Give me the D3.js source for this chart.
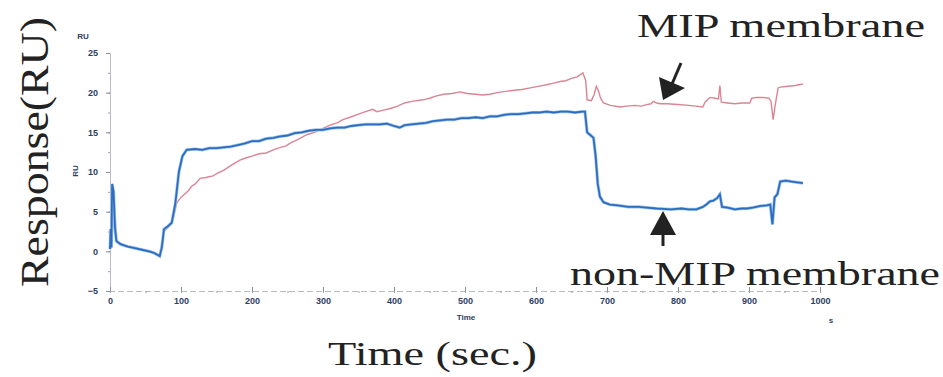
<!DOCTYPE html>
<html>
<head>
<meta charset="utf-8">
<script src="https://cdn.jsdelivr.net/npm/d3@7"></script>
<style>
  body { margin: 0; background: #fff; }
  .tick text { font-family: "Liberation Sans", Arial, sans-serif; font-weight: bold; font-size: 9px; fill: #2d3e63; }
  .big { font-family: "Liberation Serif", "Times New Roman", serif; fill: #222; }
</style>
</head>
<body>
<div id="chart"></div>
<script>
// sensorgram readings (time in s, response in RU)
const blueTime = [0, 1, 2, 3, 5, 7, 9, 15, 25, 35, 45, 55, 62, 70, 73, 76, 82, 87, 92, 97, 102, 108,
  120, 130, 140, 150, 160, 170, 180, 190, 200, 210, 220, 230, 240, 250, 260, 270, 280, 290, 300, 310, 320, 330, 340, 350, 360, 370, 380, 390,
  400, 408, 415, 425, 435, 445, 455, 465, 475, 485, 495, 505, 515, 525, 535, 545, 555, 565, 575, 585, 595, 605, 615, 625, 635, 645, 655, 665, 669,
  672, 676, 681, 684, 687, 690, 695, 704, 715, 730, 745, 756, 770, 790, 805, 815, 826, 835, 840, 845, 850, 855, 859, 862, 870, 880, 890, 897,
  905, 915, 925, 930, 933, 936, 940, 944, 952, 960, 968, 976];
const blueResp = [0.3, 2.8, 0.5, 8.5, 7.5, 3.0, 1.3, 0.9, 0.6, 0.4, 0.2, 0.0, -0.2, -0.6, 0.5, 2.8, 3.2, 3.6, 6.0, 10.0, 12.0, 12.8,
  12.9, 12.8, 13.0, 13.0, 13.1, 13.2, 13.4, 13.6, 13.9, 13.9, 14.2, 14.3, 14.5, 14.6, 14.9, 15.0, 15.2, 15.3, 15.3, 15.5, 15.6, 15.6, 15.8, 15.9, 16.0, 16.0, 16.0, 16.1,
  15.8, 15.6, 15.9, 16.0, 16.1, 16.2, 16.4, 16.5, 16.6, 16.6, 16.8, 16.8, 16.9, 16.8, 17.0, 17.0, 17.2, 17.3, 17.3, 17.4, 17.5, 17.5, 17.6, 17.5, 17.6, 17.6, 17.5, 17.6, 17.6,
  15.0, 14.7, 14.3, 12.0, 8.5, 6.9, 6.2, 5.9, 5.8, 5.6, 5.6, 5.5, 5.4, 5.3, 5.4, 5.3, 5.3, 5.6, 5.9, 6.3, 6.4, 6.7, 7.2, 5.6, 5.5, 5.3, 5.4, 5.4,
  5.5, 5.7, 5.8, 5.9, 3.4, 6.8, 7.2, 8.8, 8.9, 8.8, 8.7, 8.6];

const redTime = [0, 1, 3, 6, 9, 15, 25, 35, 45, 55, 62, 70, 76, 85, 90, 94, 100, 105, 110, 115, 120, 127, 135, 145, 152, 160, 170, 183, 192,
  200, 210, 220, 230, 240, 248, 255, 265, 277, 288, 300, 310, 320, 328, 338, 350, 360, 370, 376, 385, 395, 405, 415, 425, 441, 450, 460, 470, 482, 493,
  503, 515, 525, 535, 545, 560, 570, 580, 592, 603, 615, 625, 634, 642, 650, 658, 666,
  670, 672, 678, 682, 685, 688, 691, 695, 705, 718, 728, 740, 748, 756, 762, 765, 770, 775, 785, 800, 815, 825, 835, 838, 845, 852, 857, 859, 861,
  870, 880, 890, 901, 904, 910, 920, 928, 931, 934, 937, 941, 944, 955, 965, 976];
const redResp = [0.3, 2.4, 7.8, 6.5, 1.2, 0.9, 0.6, 0.4, 0.2, 0.0, -0.2, -0.5, 2.5, 3.3, 4.5, 6.1, 6.8, 7.2, 7.6, 8.2, 8.5, 9.2, 9.3, 9.5, 9.9, 10.2, 10.8, 11.5, 11.8,
  12.0, 12.3, 12.4, 12.8, 13.1, 13.3, 13.7, 14.1, 14.7, 15.0, 15.5, 15.9, 16.2, 16.6, 16.9, 17.3, 17.6, 17.9, 17.6, 17.8, 18.0, 18.3, 18.7, 18.9, 19.1, 19.3, 19.6, 19.8, 19.9, 20.1,
  19.9, 19.8, 19.7, 19.8, 20.0, 20.2, 20.3, 20.4, 20.6, 20.8, 21.0, 21.2, 21.4, 21.5, 21.8, 22.0, 22.5,
  21.5, 19.1, 19.0, 19.8, 20.8, 20.2, 19.3, 18.7, 18.4, 18.2, 18.3, 18.4, 18.3, 18.5, 18.6, 18.9, 18.7, 18.6, 18.6, 18.5, 18.4, 18.3, 18.2, 18.8, 19.4, 19.3, 19.2, 20.9, 18.8,
  18.7, 18.6, 18.7, 18.7, 19.3, 19.4, 19.4, 19.3, 18.9, 16.6, 18.5, 20.6, 20.7, 20.8, 20.9, 21.1];

const yTicks = [-5, 0, 5, 10, 15, 20, 25];
const xTicks = [0, 100, 200, 300, 400, 500, 600, 700, 800, 900, 1000];

const width = 943, height = 377;

const svg = d3.select("#chart").append("svg")
  .attr("width", width)
  .attr("height", height);

const x = d3.scaleLinear().domain([0, 1000]).range([110, 820]);
const y = d3.scaleLinear().domain([-5, 25]).range([291, 53]);

// minor ticks
svg.append("g")
  .attr("transform", `translate(${x(0)},0)`)
  .call(d3.axisLeft(y).tickValues(d3.range(-5, 25.1, 2.5)).tickSize(2).tickFormat(""))
  .call(g => g.select(".domain").attr("stroke", "#b8bcc4"))
  .call(g => g.selectAll(".tick line").attr("stroke", "#9aa0aa"));

svg.append("g")
  .attr("transform", `translate(0,${y(-5)})`)
  .call(d3.axisBottom(x).tickValues(d3.range(0, 1001, 50)).tickSize(2).tickFormat(""))
  .call(g => g.select(".domain").attr("stroke", "#b8bcc4").attr("stroke-dasharray", "6,3"))
  .call(g => g.selectAll(".tick line").attr("stroke", "#9aa0aa"));

// labelled ticks
svg.append("g")
  .attr("transform", `translate(${x(0)},0)`)
  .call(d3.axisLeft(y).tickValues(yTicks).tickSize(4).tickPadding(8).tickFormat(d3.format("d")))
  .call(g => g.select(".domain").remove())
  .call(g => g.selectAll(".tick line").attr("stroke", "#8890a0"));

svg.append("g")
  .attr("transform", `translate(0,${y(-5)})`)
  .call(d3.axisBottom(x).tickValues(xTicks).tickSize(-4).tickPadding(7).tickFormat(d3.format("d")))
  .call(g => g.select(".domain").remove())
  .call(g => g.selectAll(".tick line").attr("stroke", "#8890a0"));

// small instrument labels
const small = { "font-family": "Liberation Sans, Arial, sans-serif", "font-weight": "bold", "font-size": "8px", "fill": "#2d3e63" };
const addSmall = (t, px, py, rot) => {
  const el = svg.append("text").attr("x", px).attr("y", py).attr("text-anchor", "middle").text(t);
  Object.entries(small).forEach(([k, v]) => el.attr(k, v));
  if (rot) el.attr("transform", `rotate(-90,${px},${py})`);
};
addSmall("RU", 83, 39);
addSmall("RU", 78, 171, true);
addSmall("Time", 466, 320);
addSmall("s", 831, 323);

// curves
const line = d3.line().x(d => x(d[0])).y(d => y(d[1]));
const redData = redTime.map((t, i) => [t, redResp[i]]);
const blueData = blueTime.map((t, i) => [t, blueResp[i]]);

svg.append("path").datum(redData)
  .attr("d", line).attr("fill", "none")
  .attr("stroke", "#d98594").attr("stroke-width", 1.4);

svg.append("path").datum(blueData)
  .attr("d", line).attr("fill", "none")
  .attr("stroke", "#9cc6ee").attr("stroke-width", 3.2);
svg.append("path").datum(blueData)
  .attr("d", line).attr("fill", "none")
  .attr("stroke", "#2f6cc0").attr("stroke-width", 1.8);

// big annotations
svg.append("text").attr("class", "big")
  .attr("transform", "translate(48,152) rotate(-90)")
  .attr("text-anchor", "middle")
  .attr("font-size", 40)
  .attr("textLength", 270).attr("lengthAdjust", "spacingAndGlyphs")
  .text("Response(RU)");

svg.append("text").attr("class", "big")
  .attr("x", 328).attr("y", 365)
  .attr("font-size", 34)
  .attr("textLength", 209).attr("lengthAdjust", "spacingAndGlyphs")
  .text("Time (sec.)");

svg.append("text").attr("class", "big")
  .attr("x", 637).attr("y", 37)
  .attr("font-size", 34)
  .attr("textLength", 288).attr("lengthAdjust", "spacingAndGlyphs")
  .text("MIP membrane");

svg.append("text").attr("class", "big")
  .attr("x", 570).attr("y", 285)
  .attr("font-size", 34)
  .attr("textLength", 370).attr("lengthAdjust", "spacingAndGlyphs")
  .text("non-MIP membrane");

// arrows
svg.append("line").attr("x1", 681).attr("y1", 63).attr("x2", 672).attr("y2", 84)
  .attr("stroke", "#222").attr("stroke-width", 3);
svg.append("path").attr("d", "M659,77 L685,88 L663,100 Z").attr("fill", "#222");

svg.append("line").attr("x1", 663).attr("y1", 246).attr("x2", 663).attr("y2", 232)
  .attr("stroke", "#222").attr("stroke-width", 3);
svg.append("path").attr("d", "M663,211 L676,235 L650,235 Z").attr("fill", "#222");
</script>
</body>
</html>
